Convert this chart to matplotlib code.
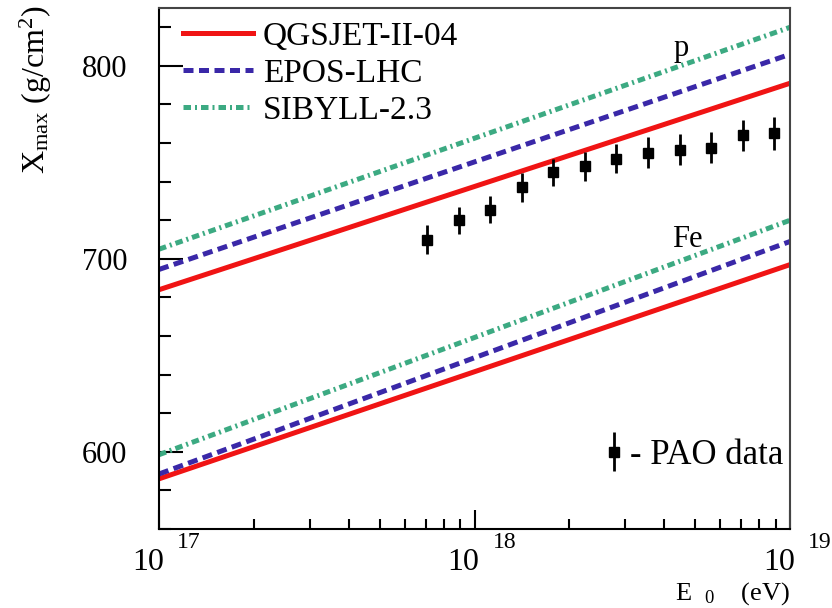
import numpy as np
import matplotlib
matplotlib.use("Agg")
import matplotlib.pyplot as plt
import matplotlib.transforms as mtransforms
from matplotlib.container import ErrorbarContainer
from matplotlib.legend_handler import HandlerErrorbar
from matplotlib.ticker import LogLocator, MultipleLocator, NullFormatter

plt.rcParams['font.family'] = ['Liberation Serif', 'DejaVu Serif']
plt.rcParams['mathtext.fontset'] = 'custom'
plt.rcParams['mathtext.rm'] = 'Liberation Serif'
plt.rcParams['mathtext.it'] = 'Liberation Serif:italic'

# model predictions, straight lines in lg(E0): values at 1e17 and 1e19 eV
e_model = [1e17, 1e19]
models = ['QGSJET-II-04', 'EPOS-LHC', 'SIBYLL-2.3']
xmax_p = {'QGSJET-II-04': [684, 791], 'EPOS-LHC': [694.5, 806], 'SIBYLL-2.3': [705, 820]}
xmax_fe = {'QGSJET-II-04': [586, 697], 'EPOS-LHC': [588.5, 709], 'SIBYLL-2.3': [598.5, 720]}

# Pierre Auger Observatory data
lg_e_pao = [17.85, 17.95, 18.05, 18.15, 18.25, 18.35, 18.45, 18.55, 18.65, 18.75, 18.85, 18.95]
xmax_pao = [710, 720, 725.5, 737, 745, 748, 752, 755, 756.5, 757.5, 764, 765]
err_pao = [7.5, 7, 7, 7.5, 7, 7.5, 7.5, 8, 8, 8, 8, 8.5]

decades = [17, 18, 19]

colors = {'QGSJET-II-04': '#f01414', 'EPOS-LHC': '#3a28a8', 'SIBYLL-2.3': '#3caa82'}
styles = {'QGSJET-II-04': dict(linestyle='-'),
          'EPOS-LHC': dict(linestyle=(0, (2.0, 1.1))),
          'SIBYLL-2.3': dict(linestyle=(0, (1.5, 0.8, 0.4, 0.8)))}

fig = plt.figure(figsize=(8.32, 6.08), dpi=100)
ax = fig.add_axes([159 / 832, 1 - 529 / 608, 631 / 832, 521 / 608])

handles = []
for m in models:
    h, = ax.plot(e_model, xmax_p[m], color=colors[m], lw=3.6, label=m, **styles[m])
    ax.plot(e_model, xmax_fe[m], color=colors[m], lw=3.6, **styles[m])
    handles.append(h)

eb = ax.errorbar(10 ** np.array(lg_e_pao), xmax_pao, yerr=err_pao, fmt='s',
                 color='black', ms=7, elinewidth=2, capsize=0)

ax.set_xscale('log')
ax.set_xlim(1e17, 1e19)
ax.set_ylim(560, 830)

ax.yaxis.set_major_locator(MultipleLocator(100))
ax.yaxis.set_minor_locator(MultipleLocator(20))
ax.xaxis.set_major_locator(LogLocator(base=10))
ax.xaxis.set_minor_locator(LogLocator(base=10, subs=np.arange(2, 10)))
ax.xaxis.set_major_formatter(NullFormatter())
ax.xaxis.set_minor_formatter(NullFormatter())

ax.tick_params(axis='y', which='major', direction='in', length=17, width=1.5, labelsize=22, pad=23)
ax.tick_params(axis='y', which='minor', direction='in', length=8.5, width=1.5)
ax.tick_params(axis='x', which='major', direction='in', length=14, width=1.5)
ax.tick_params(axis='x', which='minor', direction='in', length=7, width=1.5)
for s in ax.spines.values():
    s.set_linewidth(1.5)
ax.spines['top'].set_color('#444444')
ax.spines['right'].set_color('#444444')

# ROOT-like decade labels: "10" with the exponent set off to the upper right
trans = mtransforms.blended_transform_factory(ax.transData, ax.transAxes)
for d in decades:
    t10 = mtransforms.offset_copy(trans, fig=fig, x=5, y=-34, units='dots')
    ax.text(10.0 ** d, 0, '10', transform=t10, ha='right', va='center', fontsize=23)
    texp = mtransforms.offset_copy(trans, fig=fig, x=18, y=-14, units='dots')
    ax.text(10.0 ** d, 0, str(d), transform=texp, ha='left', va='center', fontsize=17)

fig.text(790 / 832, 1 - 600 / 608, r'E$_{\ \ \ 0}$    (eV)', ha='right', va='baseline', fontsize=19)
fig.text(36 / 832, 1 - 5 / 608, r'X$_{\mathrm{max}}$ (g/cm$^{2}$)', rotation=90,
         ha='center', va='top', fontsize=23)

ax.text(1e18 * 10 ** 0.655, 809, 'p', ha='center', va='center', fontsize=22)
ax.text(1e18 * 10 ** 0.675, 710, 'Fe', ha='center', va='center', fontsize=22)

leg = ax.legend(handles=handles, loc='upper left', bbox_to_anchor=(24 / 631, 0.975),
                frameon=False, fontsize=24, handlelength=2.1, handletextpad=0.3,
                labelspacing=0.2, borderaxespad=0, borderpad=0)
ax.add_artist(leg)

ax.legend([eb], ['- PAO data'], loc='lower right', bbox_to_anchor=(0.989, 0.11),
          frameon=False, fontsize=25, handlelength=0.5, handletextpad=0.2,
          borderaxespad=0, borderpad=0,
          handler_map={ErrorbarContainer: HandlerErrorbar(yerr_size=0.55, numpoints=1)})

fig.savefig('out.png', dpi=100)
